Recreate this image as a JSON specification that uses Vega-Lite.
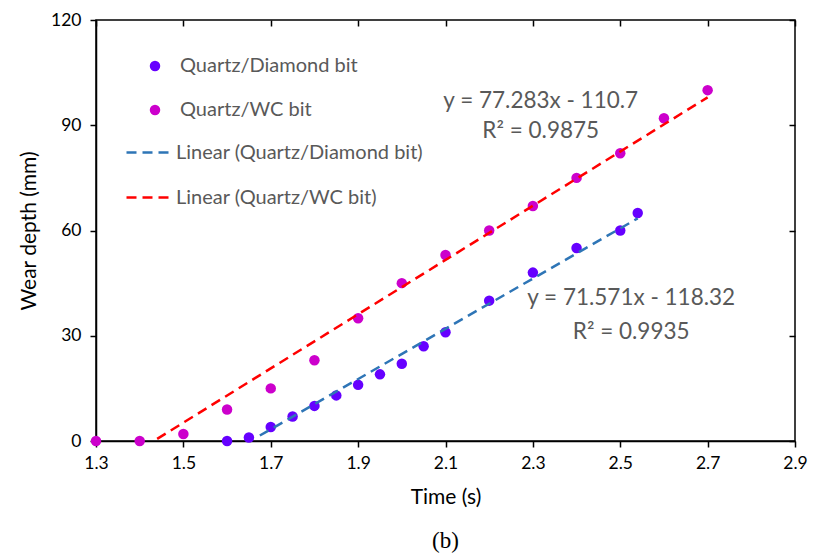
{
  "$schema": "https://vega.github.io/schema/vega-lite/v6.json",
  "width": 699,
  "height": 421,
  "autosize": {"type": "none"},
  "padding": {"left": 96, "top": 20, "right": 22, "bottom": 113},
  "background": "white",
  "config": {
    "view": {"stroke": "#000000", "strokeWidth": 1.5},
    "font": "Lato"
  },
  "title": {
    "text": "(b)",
    "orient": "bottom",
    "anchor": "middle",
    "font": "Liberation Serif",
    "fontSize": 23,
    "fontWeight": "normal",
    "color": "#000000",
    "offset": 22
  },
  "datasets": {
    "points": [
      {"time": 1.6, "depth": 0, "series": "Quartz/Diamond bit"},
      {"time": 1.65, "depth": 1, "series": "Quartz/Diamond bit"},
      {"time": 1.7, "depth": 4, "series": "Quartz/Diamond bit"},
      {"time": 1.75, "depth": 7, "series": "Quartz/Diamond bit"},
      {"time": 1.8, "depth": 10, "series": "Quartz/Diamond bit"},
      {"time": 1.85, "depth": 13, "series": "Quartz/Diamond bit"},
      {"time": 1.9, "depth": 16, "series": "Quartz/Diamond bit"},
      {"time": 1.95, "depth": 19, "series": "Quartz/Diamond bit"},
      {"time": 2.0, "depth": 22, "series": "Quartz/Diamond bit"},
      {"time": 2.05, "depth": 27, "series": "Quartz/Diamond bit"},
      {"time": 2.1, "depth": 31, "series": "Quartz/Diamond bit"},
      {"time": 2.2, "depth": 40, "series": "Quartz/Diamond bit"},
      {"time": 2.3, "depth": 48, "series": "Quartz/Diamond bit"},
      {"time": 2.4, "depth": 55, "series": "Quartz/Diamond bit"},
      {"time": 2.5, "depth": 60, "series": "Quartz/Diamond bit"},
      {"time": 2.54, "depth": 65, "series": "Quartz/Diamond bit"},
      {"time": 1.3, "depth": 0, "series": "Quartz/WC bit"},
      {"time": 1.4, "depth": 0, "series": "Quartz/WC bit"},
      {"time": 1.5, "depth": 2, "series": "Quartz/WC bit"},
      {"time": 1.6, "depth": 9, "series": "Quartz/WC bit"},
      {"time": 1.7, "depth": 15, "series": "Quartz/WC bit"},
      {"time": 1.8, "depth": 23, "series": "Quartz/WC bit"},
      {"time": 1.9, "depth": 35, "series": "Quartz/WC bit"},
      {"time": 2.0, "depth": 45, "series": "Quartz/WC bit"},
      {"time": 2.1, "depth": 53, "series": "Quartz/WC bit"},
      {"time": 2.2, "depth": 60, "series": "Quartz/WC bit"},
      {"time": 2.3, "depth": 67, "series": "Quartz/WC bit"},
      {"time": 2.4, "depth": 75, "series": "Quartz/WC bit"},
      {"time": 2.5, "depth": 82, "series": "Quartz/WC bit"},
      {"time": 2.6, "depth": 92, "series": "Quartz/WC bit"},
      {"time": 2.7, "depth": 100, "series": "Quartz/WC bit"}
    ],
    "fits": [
      {"time": 1.675, "depth": 1.56, "fit": "Linear (Quartz/Diamond bit)"},
      {"time": 2.54, "depth": 63.47, "fit": "Linear (Quartz/Diamond bit)"},
      {"time": 1.44, "depth": 0.59, "fit": "Linear (Quartz/WC bit)"},
      {"time": 2.7, "depth": 97.96, "fit": "Linear (Quartz/WC bit)"}
    ],
    "notes": [
      {"time": 2.318, "depth": 96.9, "label": "y = 77.283x - 110.7"},
      {"time": 2.318, "depth": 88.4, "label": "R² = 0.9875"},
      {"time": 2.525, "depth": 40.8, "label": "y = 71.571x - 118.32"},
      {"time": 2.525, "depth": 31.1, "label": "R² = 0.9935"}
    ]
  },
  "resolve": {"axis": {"x": "independent", "y": "independent"}},
  "layer": [
    {
      "data": {"name": "points"},
      "mark": {"type": "point", "filled": true, "size": 110, "opacity": 1, "shape": "circle"},
      "encoding": {
        "x": {
          "field": "time", "type": "quantitative",
          "scale": {"domain": [1.3, 2.9], "nice": false, "zero": false},
          "axis": {
            "values": [1.3, 1.5, 1.7, 1.9, 2.1, 2.3, 2.5, 2.7, 2.9],
            "format": ".1f",
            "grid": false, "labelFlush": false,
            "domainColor": "#000000", "domainWidth": 1.5,
            "tickColor": "#000000", "tickWidth": 1.5, "tickSize": 6,
            "labelFont": "Lato", "labelFontSize": 17.5, "labelColor": "#000000", "labelPadding": 7,
            "title": "Time (s)", "titleFont": "Lato", "titleFontSize": 21, "titleFontWeight": "normal",
            "titleColor": "#000000", "titlePadding": 15
          }
        },
        "y": {
          "field": "depth", "type": "quantitative",
          "scale": {"domain": [0, 120], "nice": false},
          "axis": {
            "values": [0, 30, 60, 90, 120],
            "grid": false, "labelFlush": false,
            "domainColor": "#000000", "domainWidth": 1.5,
            "tickColor": "#000000", "tickWidth": 1.5, "tickSize": 6,
            "labelFont": "Lato", "labelFontSize": 17.5, "labelColor": "#000000", "labelPadding": 9,
            "title": "Wear depth (mm)", "titleFont": "Lato", "titleFontSize": 21, "titleFontWeight": "normal",
            "titleColor": "#000000", "titlePadding": 11
          }
        },
        "color": {
          "field": "series", "type": "nominal",
          "scale": {"domain": ["Quartz/Diamond bit", "Quartz/WC bit"], "range": ["#6600ff", "#cc00cc"]},
          "legend": {
            "orient": "none", "legendX": 49, "legendY": 36, "title": null,
            "symbolType": "circle", "symbolSize": 110, "symbolStrokeWidth": 0,
            "labelFont": "Lato", "labelFontSize": 20, "labelColor": "#595959", "labelLimit": 400,
            "labelOffset": 15, "rowPadding": 24, "padding": 0
          }
        }
      }
    },
    {
      "data": {"name": "fits"},
      "mark": {"type": "line", "strokeDash": [10, 6], "strokeWidth": 2.5},
      "encoding": {
        "x": {"field": "time", "type": "quantitative",
          "axis": {"values": [1.3, 1.5, 1.7, 1.9, 2.1, 2.3, 2.5, 2.7, 2.9], "labels": false, "domain": false, "grid": false,
            "tickColor": "#000000", "tickWidth": 1.5, "tickSize": -6, "title": null}},
        "y": {"field": "depth", "type": "quantitative",
          "axis": {"values": [0, 30, 60, 90, 120], "labels": false, "domain": false, "grid": false,
            "tickColor": "#000000", "tickWidth": 1.5, "tickSize": -6, "title": null}},
        "stroke": {
          "field": "fit", "type": "nominal",
          "scale": {"domain": ["Linear (Quartz/Diamond bit)", "Linear (Quartz/WC bit)"], "range": ["#2e75b6", "#ff0000"]},
          "legend": {
            "orient": "none", "legendX": 29, "legendY": 107, "title": null,
            "symbolType": "stroke", "symbolSize": 2304, "symbolStrokeWidth": 2.5, "symbolDash": [10, 6],
            "labelFont": "Lato", "labelFontSize": 20, "labelColor": "#595959", "labelLimit": 400,
            "labelOffset": 0, "rowPadding": 9, "padding": 0
          }
        }
      }
    },
    {
      "data": {"name": "notes"},
      "mark": {"type": "text", "font": "Lato", "fontSize": 22.5, "color": "#595959", "align": "center", "baseline": "middle"},
      "encoding": {
        "x": {"field": "time", "type": "quantitative", "axis": null},
        "y": {"field": "depth", "type": "quantitative", "axis": null},
        "text": {"field": "label", "type": "nominal"}
      }
    }
  ]
}
